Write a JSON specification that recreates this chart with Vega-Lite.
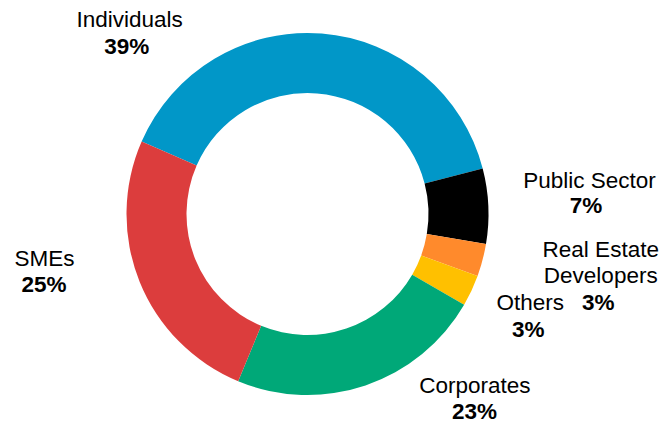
{
  "$schema": "https://vega.github.io/schema/vega-lite/v6.json",
  "width": 615,
  "height": 416,
  "autosize": "none",
  "padding": {"left": 0, "top": 6, "right": 49, "bottom": 0},
  "background": "white",
  "view": {"stroke": null},
  "data": {
    "values": [
      {"category": "Individuals", "label": "Individuals", "share": 0.394, "rank": 1},
      {"category": "Public Sector", "label": "Public Sector", "share": 0.067, "rank": 2},
      {"category": "Real Estate Developers", "label": "Real Estate\nDevelopers", "share": 0.029, "rank": 3},
      {"category": "Others", "label": "Others", "share": 0.028, "rank": 4},
      {"category": "Corporates", "label": "Corporates", "share": 0.229, "rank": 5},
      {"category": "SMEs", "label": "SMEs", "share": 0.253, "rank": 6}
    ]
  },
  "encoding": {
    "theta": {"field": "share", "type": "quantitative", "stack": true, "scale": {"range": [-1.1589, 5.1243]}},
    "order": {"field": "rank", "type": "quantitative"}
  },
  "layer": [
    {
      "mark": {"type": "arc", "outerRadius": 181, "innerRadius": 121, "strokeWidth": 0},
      "encoding": {
        "color": {
          "field": "category",
          "type": "nominal",
          "scale": {
            "domain": ["Individuals", "Public Sector", "Real Estate Developers", "Others", "Corporates", "SMEs"],
            "range": ["#0197C8", "#000000", "#FF8A2C", "#FFC000", "#00A878", "#DC3D3D"]
          },
          "legend": null
        }
      }
    },
    {
      "mark": {
        "type": "text",
        "radius": 210,
        "font": "Liberation Sans",
        "fontSize": 22.5,
        "align": "center",
        "baseline": "alphabetic",
        "lineBreak": "\n",
        "lineHeight": 26,
        "fill": "#000000",
        "dx": {"expr": "datum.category === 'Individuals' ? -194.5 : datum.category === 'Public Sector' ? 72.2 : datum.category === 'Real Estate Developers' ? 90.2 : datum.category === 'Others' ? 32.5 : datum.category === 'Corporates' ? 100.1 : -68.2"},
        "dy": {"expr": "datum.category === 'Individuals' ? 22.6 : datum.category === 'Public Sector' ? -17.1 : datum.category === 'Real Estate Developers' ? -10.9 : datum.category === 'Others' ? 7.2 : datum.category === 'Corporates' ? -19.6 : -26.8"}
      },
      "encoding": {
        "text": {"field": "label", "type": "nominal"}
      }
    },
    {
      "mark": {
        "type": "text",
        "radius": 210,
        "font": "Liberation Sans",
        "fontSize": 22.5,
        "fontWeight": "bold",
        "align": "center",
        "baseline": "alphabetic",
        "fill": "#000000",
        "dx": {"expr": "datum.category === 'Individuals' ? -197.4 : datum.category === 'Public Sector' ? 68.7 : datum.category === 'Real Estate Developers' ? 87.8 : datum.category === 'Others' ? 30.5 : datum.category === 'Corporates' ? 99.6 : -68.7"},
        "dy": {"expr": "datum.category === 'Individuals' ? 49.4 : datum.category === 'Public Sector' ? 8.5 : datum.category === 'Real Estate Developers' ? 42.4 : datum.category === 'Others' ? 33.9 : datum.category === 'Corporates' ? 6.4 : -0.8"}
      },
      "encoding": {
        "text": {"field": "share", "type": "quantitative", "format": ".0%"}
      }
    }
  ]
}
